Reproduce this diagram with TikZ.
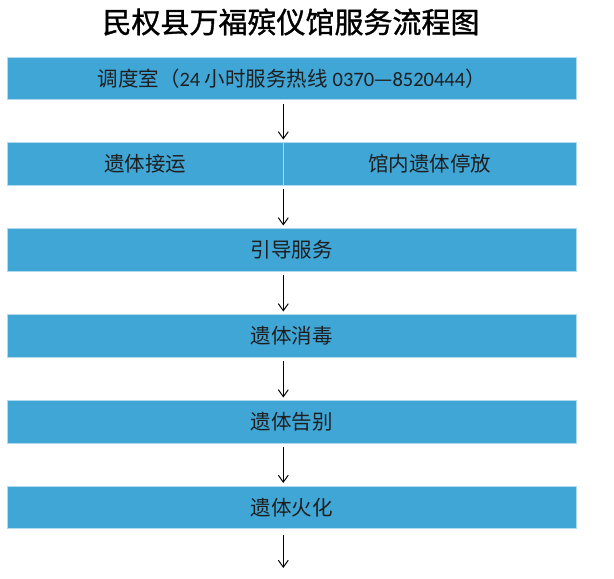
\documentclass[tikz,border=0pt]{standalone}
\usepackage{fontspec}
\setmainfont{Noto Sans CJK SC}
\newfontfamily\cjk{Noto Sans CJK SC}
\newfontfamily\cjktitle[FakeBold=1.2]{Noto Sans CJK SC}
\newfontfamily\latn{Carlito}
\usetikzlibrary{arrows.meta}
\definecolor{boxfill}{RGB}{64,166,214}
\definecolor{boxedge}{RGB}{178,218,238}
\definecolor{boxtext}{RGB}{30,30,30}
\tikzset{
  flowbox/.style={draw=boxedge, line width=0.8pt, fill=boxfill, anchor=north west,
    minimum height=42.7pt, inner sep=0pt, outer sep=0pt,
    font=\cjk\fontsize{20.5}{20.5}\selectfont, text=boxtext},
  fullbox/.style={flowbox, minimum width=568.7pt},
  leftbox/.style={flowbox, minimum width=276pt},
  rightbox/.style={flowbox, minimum width=292.7pt},
  flowarrow/.style={-{Straight Barb[length=7pt,width=10pt]}, line width=1pt, black}
}
\begin{document}
\begin{tikzpicture}[x=1pt,y=-1pt]
\useasboundingbox (0,0) rectangle (614,579);
\node (title) at (291,22) {\cjktitle\fontsize{29}{29}\selectfont 民权县万福殡仪馆服务流程图};
\node[fullbox] (b1) at (7.3,57) {调度室（{\latn 24 }小时服务热线{\latn\ 0370}—{\latn 8520444}）};
\node[leftbox] (b2l) at (7.3,142.5) {遗体接运};
\node[rightbox] (b2r) at (283.3,142.5) {馆内遗体停放};
\node[fullbox] (b3) at (7.3,228.5) {引导服务};
\node[fullbox] (b4) at (7.3,314.5) {遗体消毒};
\node[fullbox] (b5) at (7.3,400.5) {遗体告别};
\node[fullbox] (b6) at (7.3,486) {遗体火化};
\coordinate (end) at (283.3,568);
\draw[flowarrow] ([yshift=-4pt]b1.south -| b2r.west) -- ([yshift=3pt]b2r.north west);
\draw[flowarrow] ([yshift=-4pt]b2r.south west) -- ([yshift=3pt]b3.north -| b2r.west);
\draw[flowarrow] ([yshift=-4pt]b3.south -| b2r.west) -- ([yshift=3pt]b4.north -| b2r.west);
\draw[flowarrow] ([yshift=-4pt]b4.south -| b2r.west) -- ([yshift=3pt]b5.north -| b2r.west);
\draw[flowarrow] ([yshift=-4pt]b5.south -| b2r.west) -- ([yshift=3pt]b6.north -| b2r.west);
\draw[flowarrow] ([yshift=-6pt]b6.south -| b2r.west) -- (end);
\end{tikzpicture}
\end{document}
